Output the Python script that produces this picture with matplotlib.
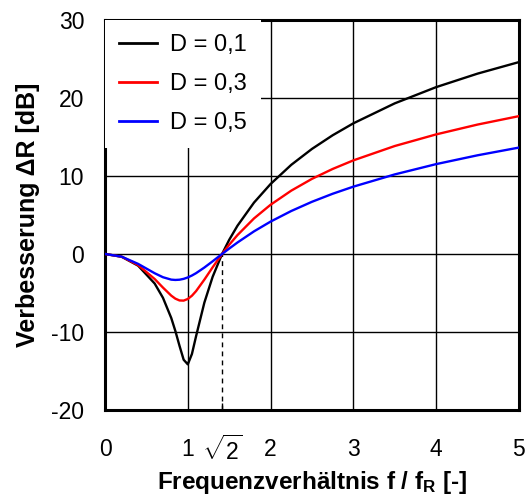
import matplotlib
matplotlib.use("Agg")
import matplotlib.pyplot as plt
import numpy as np

plt.rcParams["font.family"] = ["Liberation Sans", "DejaVu Sans"]
plt.rcParams["mathtext.fontset"] = "custom"
plt.rcParams["mathtext.rm"] = "Liberation Sans"
plt.rcParams["mathtext.it"] = "Liberation Sans:italic"
plt.rcParams["mathtext.bf"] = "Liberation Sans:bold"
plt.rcParams["axes.unicode_minus"] = False

# frequency ratio f / f_R
ratio = [0.0, 0.2, 0.4, 0.6, 0.7, 0.8, 0.85, 0.9, 0.95, 1.0, 1.05, 1.1, 1.2, 1.3,
         1.414, 1.5, 1.6, 1.8, 2.0, 2.25, 2.5, 2.75, 3.0, 3.5, 4.0, 4.5, 5.0]

# improvement dR [dB]
dr_d01 = [0.0, -0.35, -1.50, -3.79, -5.62, -8.20, -9.88, -11.78, -13.56, -14.15, -12.82,
          -10.54, -6.24, -2.93, 0.0, 1.81, 3.62, 6.59, 8.97, 11.43, 13.47, 15.22, 16.75,
          19.31, 21.39, 23.12, 24.60]
dr_d03 = [0.0, -0.35, -1.42, -3.21, -4.31, -5.34, -5.73, -5.96, -5.98, -5.77, -5.35,
          -4.76, -3.29, -1.71, 0.0, 1.18, 2.42, 4.56, 6.31, 8.12, 9.63, 10.90, 12.00,
          13.84, 15.33, 16.59, 17.67]
dr_d05 = [0.0, -0.34, -1.27, -2.47, -2.98, -3.29, -3.33, -3.30, -3.19, -3.01, -2.76,
          -2.46, -1.74, -0.94, 0.0, 0.69, 1.47, 2.90, 4.15, 5.51, 6.69, 7.72, 8.63,
          10.20, 11.52, 12.65, 13.64]

series = [("D = 0,1", dr_d01, "black"),
          ("D = 0,3", dr_d03, "#ff0000"),
          ("D = 0,5", dr_d05, "#0000ff")]

x_ticks = [0, 1, 2, 3, 4, 5]
y_ticks = [-20, -10, 0, 10, 20, 30]
sqrt2 = 1.414


def main() -> None:
    fig = plt.figure(figsize=(5.29, 4.99), dpi=100)
    ax = fig.add_axes([0.1985, 0.1784, 0.7825, 0.7816])

    for label, values, color in series:
        ax.plot(ratio, values, color=color, lw=1.7, label=label, zorder=3)

    ax.plot([sqrt2, sqrt2], [-20, 0], color="black", lw=1.0, ls=(0, (3.5, 3)), zorder=2)

    ax.set_xlim(0, 5)
    ax.set_ylim(-20, 30)
    ax.set_xticks(x_ticks)
    ax.set_yticks(y_ticks)
    ax.set_xticks([sqrt2], minor=True)
    ax.set_xticklabels([r"$\sqrt{2}$"], minor=True)
    ax.tick_params(axis="both", which="major", direction="in", length=0, labelsize=16.5)
    ax.tick_params(axis="x", which="major", pad=20)
    ax.tick_params(axis="y", which="major", pad=15)
    ax.tick_params(axis="x", which="minor", direction="in", length=5, width=1.0,
                   labelsize=16.5, pad=18)

    ax.grid(True, which="major", color="black", lw=1.0)
    ax.set_axisbelow(True)
    for spine in ax.spines.values():
        spine.set_linewidth(2.2)

    ax.set_xlabel(r"Frequenzverhältnis f / f$_\mathbf{R}$ [-]", fontsize=17.5,
                  fontweight="bold", labelpad=3.5)
    ax.set_ylabel("Verbesserung ΔR [dB]", fontsize=18, fontweight="bold")
    ax.yaxis.set_label_coords(-0.158, 0.5)

    leg = ax.legend(loc="upper left", fontsize=17, frameon=True, fancybox=False,
                    handlelength=1.6, handletextpad=0.55, labelspacing=0.72,
                    borderpad=0.6, borderaxespad=0.0)
    leg.get_frame().set_facecolor("white")
    leg.get_frame().set_edgecolor("none")
    leg.get_frame().set_alpha(1.0)
    leg.set_zorder(5)
    for line in leg.get_lines():
        line.set_linewidth(2.0)

    fig.savefig("out.png", dpi=100)
    plt.close(fig)


if __name__ == "__main__":
    main()
